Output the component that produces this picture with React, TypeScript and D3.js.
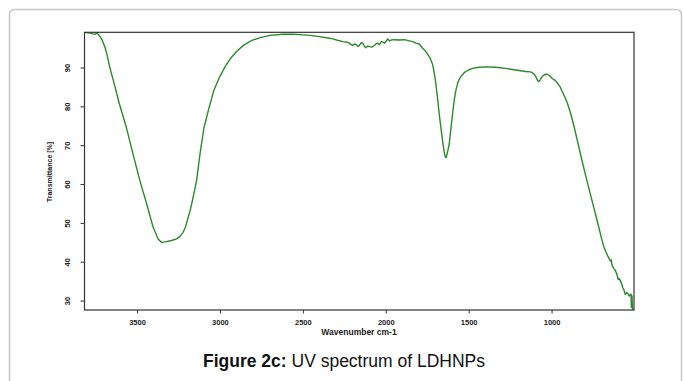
import React from "react";
import * as d3 from "d3";

const wavenumbers = [
  3818, 3800, 3786, 3770, 3756, 3746, 3735, 3726, 3716, 3706, 3696, 3686, 3670,
  3641, 3610, 3568, 3530, 3486, 3445, 3406, 3376, 3355, 3325, 3295, 3265, 3245,
  3225, 3210, 3195, 3180, 3165, 3144, 3123, 3100, 3070, 3040, 3004, 2970, 2939,
  2900, 2860, 2810, 2756, 2700, 2625, 2560, 2521, 2460, 2403, 2360, 2322, 2290,
  2262, 2240, 2222, 2212, 2202, 2192, 2182, 2172, 2162, 2152, 2142, 2132, 2122,
  2112, 2102, 2087, 2072, 2062, 2052, 2041, 2031, 2021, 2011, 2001, 1991, 1981,
  1971, 1950, 1921, 1890, 1861, 1840, 1821, 1801, 1781, 1766, 1751, 1736, 1721,
  1711, 1701, 1691, 1681, 1671, 1661, 1651, 1644, 1638, 1630, 1620, 1610, 1600,
  1590, 1580, 1570, 1560, 1545, 1530, 1505, 1480, 1440, 1400, 1340, 1279, 1220,
  1159, 1130, 1119, 1108, 1098, 1090, 1083, 1076, 1068, 1058, 1048, 1038, 1029,
  1014, 999, 984, 969, 950, 928, 908, 888, 868, 848, 820, 790, 760, 730, 698,
  688, 678, 663, 648, 643, 638, 628, 618, 610, 602, 595, 588, 581, 574, 566,
  558, 550, 542, 535, 528, 524, 522, 520, 518, 516, 514,
];

const transmittance = [
  99.2, 99.1, 99.0, 98.8, 98.7, 99.0, 98.6, 98.1, 97.4, 96.4, 95.3, 93.8, 90.6,
  86.0, 80.8, 74.8, 68.3, 61.0, 55.0, 49.0, 46.0, 45.1, 45.3, 45.6, 46.0, 46.6,
  47.7, 49.2, 51.5, 53.8, 56.7, 61.0, 68.0, 74.5, 79.6, 84.2, 87.8, 90.5, 92.5,
  94.4, 95.9, 97.1, 97.9, 98.4, 98.7, 98.7, 98.6, 98.4, 98.1, 97.8, 97.5, 97.1,
  96.8, 96.7, 96.4, 96.0, 95.8, 96.2, 96.1, 95.6, 95.8, 96.5, 96.4, 95.6, 95.2,
  95.7, 95.5, 95.4, 95.8, 96.2, 96.4, 96.0, 96.8, 96.7, 96.4, 96.9, 97.5, 97.0,
  97.2, 97.3, 97.2, 97.3, 97.0, 96.8, 96.4, 96.2, 95.1, 94.5, 93.6, 92.6, 91.0,
  88.8, 86.0, 82.3, 78.3, 74.8, 71.4, 68.5, 67.1, 67.0, 68.5, 70.5, 74.5, 78.3,
  81.8, 84.3, 86.0, 87.1, 88.1, 88.8, 89.5, 89.9, 90.2, 90.3, 90.2, 89.9, 89.5,
  89.1, 89.0, 88.8, 88.4, 87.8, 87.0, 86.5, 86.7, 87.2, 87.9, 88.2, 88.4, 88.4,
  88.0, 87.3, 86.9, 86.2, 85.0, 83.0, 81.0, 78.3, 75.0, 71.4, 66.2, 61.0, 56.0,
  51.0, 45.5, 44.0, 42.9, 41.5, 40.3, 40.6, 39.1, 38.4, 37.8, 37.0, 35.6, 35.8,
  35.2, 34.5, 33.5, 32.8, 31.7, 32.2, 31.9, 31.3, 31.6, 31.8, 28.4, 31.4, 31.3,
  28.6, 27.7,
];

const xTicks = [3500, 3000, 2500, 2000, 1500, 1000];
const yTicks = [30, 40, 50, 60, 70, 80, 90];

const W = 683;
const H = 381;
const plot = { left: 84.5, right: 634, top: 32.3, bottom: 310 };

export default function App() {
  const x = d3.scaleLinear().domain([3820, 506]).range([plot.left, plot.right]);
  const y = d3.scaleLinear().domain([99.2, 27.7]).range([plot.top, plot.bottom]);
  const pts: [number, number][] = wavenumbers.map((w, i) => [w, transmittance[i]]);
  const line = d3
    .line<[number, number]>()
    .x((d) => x(d[0]))
    .y((d) => y(d[1]));
  const path = line(pts) || "";

  const font = "'Liberation Sans', Arial, sans-serif";

  return (
    <svg
      width={W}
      height={H}
      viewBox={`0 0 ${W} ${H}`}
      style={{ position: "absolute", left: 0, top: 0, background: "#fff" }}
      fontFamily={font}
    >
      <rect x={0} y={0} width={W} height={H} fill="#fff" />
      <path
        d={`M9.5,${H + 5} L9.5,15 Q9.5,9.5 15,9.5 L676,9.5 Q681.5,9.5 681.5,15 L681.5,${H + 5}`}
        fill="none"
        stroke="#c8c8c8"
        strokeWidth={1.5}
      />
      <defs>
        <clipPath id="plotclip">
          <rect
            x={plot.left}
            y={plot.top}
            width={plot.right - plot.left}
            height={plot.bottom - plot.top}
          />
        </clipPath>
      </defs>
      <path
        d={path}
        fill="none"
        stroke="#2a8a2a"
        strokeWidth={1.4}
        strokeLinejoin="round"
        clipPath="url(#plotclip)"
      />
      <rect
        x={plot.left}
        y={plot.top}
        width={plot.right - plot.left}
        height={plot.bottom - plot.top}
        fill="none"
        stroke="#333"
        strokeWidth={1.2}
      />
      {xTicks.map((t) => (
        <g key={t}>
          <line
            x1={x(t)}
            x2={x(t)}
            y1={plot.bottom}
            y2={plot.bottom + 3.5}
            stroke="#333"
            strokeWidth={1}
          />
          <text
            x={x(t)}
            y={324.5}
            textAnchor="middle"
            fontSize={7.5}
            fontWeight="bold"
            fill="#222"
          >
            {t}
          </text>
        </g>
      ))}
      {yTicks.map((t) => (
        <g key={t}>
          <line
            x1={plot.left - 4}
            x2={plot.left}
            y1={y(t)}
            y2={y(t)}
            stroke="#333"
            strokeWidth={1}
          />
          <text
            transform={`translate(70,${y(t)}) rotate(-90)`}
            textAnchor="middle"
            fontSize={7.5}
            fontWeight="bold"
            fill="#222"
          >
            {t}
          </text>
        </g>
      ))}
      <text
        transform={`translate(52,172) rotate(-90)`}
        textAnchor="middle"
        fontSize={7}
        fontWeight="bold"
        fill="#222"
      >
        Transmittance [%]
      </text>
      <text
        x={359}
        y={335}
        textAnchor="middle"
        fontSize={8.5}
        fontWeight="bold"
        fill="#222"
      >
        Wavenumber cm-1
      </text>
      <text x={344} y={367} textAnchor="middle" fontSize={17.5} fill="#111">
        <tspan fontWeight="bold">Figure 2c:</tspan>
        <tspan> UV spectrum of LDHNPs</tspan>
      </text>
    </svg>
  );
}
